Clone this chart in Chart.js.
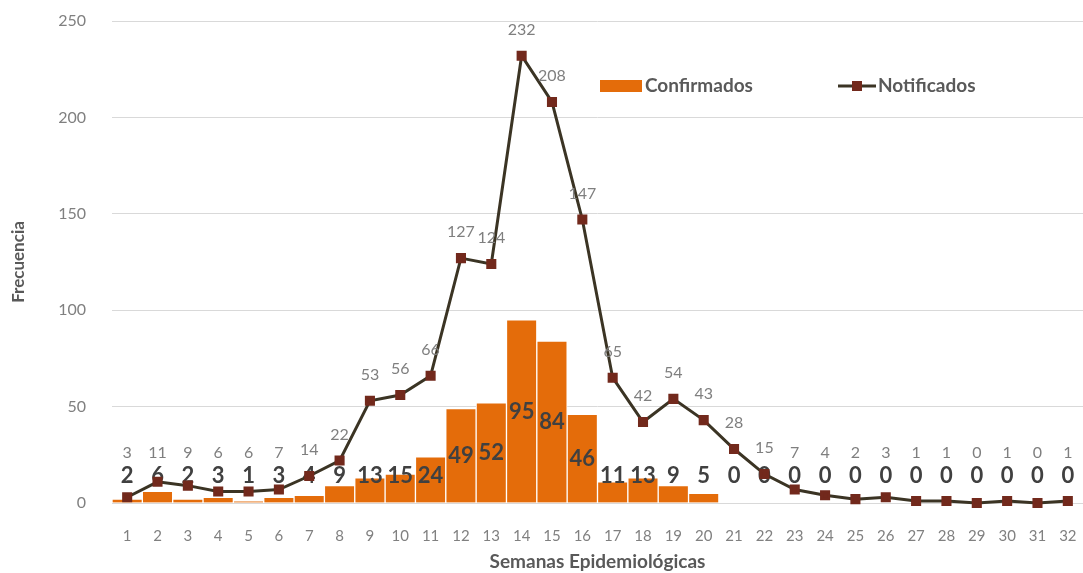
<!DOCTYPE html>
<html>
<head>
<meta charset="utf-8">
<script src="https://cdn.jsdelivr.net/npm/chart.js@4.4.1/dist/chart.umd.min.js"></script>
<style>
  html, body { margin: 0; padding: 0; background: #fff; }
  #wrap { width: 1083px; height: 573px; }
</style>
</head>
<body>
<div id="wrap"><canvas id="chart"></canvas></div>
<script>
const WEEKS = ['1','2','3','4','5','6','7','8','9','10','11','12','13','14','15','16',
  '17','18','19','20','21','22','23','24','25','26','27','28','29','30','31','32'];
const CONFIRMADOS = [2,6,2,3,1,3,4,9,13,15,24,49,52,95,84,46,11,13,9,5,0,0,0,0,0,0,0,0,0,0,0,0];
const NOTIFICADOS = [3,11,9,6,6,7,14,22,53,56,66,127,124,232,208,147,65,42,54,43,28,15,7,4,2,3,1,1,0,1,0,1];
const Y_TICKS = [0,50,100,150,200,250];

const FONT = 'Lato, "Open Sans", sans-serif';
const BAR_COLOR = '#E46C0A';
const LINE_COLOR = '#3b3424';
const MARK_COLOR = '#72291c';

// labels drawn like the excel data labels
const valueLabels = {
  id: 'valueLabels',
  afterDatasetDraw(chart, args) {
    const ctx = chart.ctx;
    const meta = args.meta;
    const yZero = chart.scales.y.getPixelForValue(0);
    ctx.save();
    ctx.textAlign = 'center';
    ctx.textBaseline = 'middle';
    if (meta.type === 'bar') {
      ctx.font = 'bold 22px ' + FONT;
      ctx.fillStyle = '#404040';
      meta.data.forEach((bar, i) => {
        let y = (bar.y + yZero) / 2;
        y = Math.min(y, yZero - 27);
        ctx.fillText(CONFIRMADOS[i], bar.x, y);
      });
    } else {
      ctx.font = '16px ' + FONT;
      ctx.fillStyle = '#7f7f7f';
      meta.data.forEach((pt, i) => {
        let y = Math.min(pt.y - 26, yZero - 50);
        ctx.fillText(NOTIFICADOS[i], pt.x, y);
      });
    }
    ctx.restore();
  },
  afterDraw(chart) {
    // legend inside the plot
    const ctx = chart.ctx;
    ctx.save();
    ctx.font = 'bold 19px ' + FONT;
    ctx.textBaseline = 'middle';
    ctx.fillStyle = BAR_COLOR;
    ctx.fillRect(600, 80, 42, 12);
    ctx.fillStyle = '#595959';
    ctx.fillText(chart.data.datasets[0].label, 645, 86);

    ctx.strokeStyle = LINE_COLOR;
    ctx.lineWidth = 3;
    ctx.beginPath();
    ctx.moveTo(838, 86);
    ctx.lineTo(876, 86);
    ctx.stroke();
    ctx.fillStyle = MARK_COLOR;
    ctx.fillRect(852, 81, 10, 10);
    ctx.fillStyle = '#595959';
    ctx.fillText(chart.data.datasets[1].label, 878, 86);
    ctx.restore();
  }
};

new Chart(document.getElementById('chart'), {
  data: {
    labels: WEEKS,
    datasets: [
      {
        type: 'bar',
        label: 'Confirmados',
        data: CONFIRMADOS,
        backgroundColor: BAR_COLOR,
        borderColor: '#ffffff',
        borderWidth: 1,
        barPercentage: 1,
        categoryPercentage: 1,
        order: 2
      },
      {
        type: 'line',
        label: 'Notificados',
        data: NOTIFICADOS,
        borderColor: LINE_COLOR,
        borderWidth: 3,
        pointStyle: 'rect',
        pointRadius: 5,
        pointBackgroundColor: MARK_COLOR,
        pointBorderColor: MARK_COLOR,
        tension: 0,
        clip: false,
        order: 1
      }
    ]
  },
  options: {
    responsive: true,
    maintainAspectRatio: false,
    animation: false,
    layout: { autoPadding: false, padding: { top: 21, right: 0, bottom: 0, left: 0 } },
    plugins: {
      legend: { display: false },
      tooltip: { enabled: false }
    },
    scales: {
      x: {
        grid: { display: false },
        border: { color: '#d9d9d9', width: 1 },
        ticks: { color: '#808080', font: { family: FONT, size: 15 }, padding: 16, maxRotation: 0, autoSkip: false },
        title: {
          display: true,
          text: 'Semanas Epidemiológicas',
          color: '#595959',
          font: { family: FONT, size: 19, weight: 'bold' },
          padding: { top: 4, bottom: 0 }
        },
        afterFit(axis) {
          axis.height = 70;
          axis.paddingLeft = 0;
          axis.paddingRight = 0;
        }
      },
      y: {
        min: 0,
        max: 250,
        afterBuildTicks(axis) { axis.ticks = Y_TICKS.map(v => ({ value: v })); },
        grid: { color: '#d9d9d9', drawTicks: false },
        border: { display: false },
        ticks: { color: '#808080', font: { family: FONT, size: 16 }, padding: 26 },
        title: {
          display: true,
          text: 'Frecuencia',
          color: '#595959',
          font: { family: FONT, size: 17, weight: 'bold' },
          padding: { top: 8, bottom: 0 }
        },
        afterFit(axis) {
          axis.width = 112;
          axis.paddingTop = 0;
        }
      }
    }
  },
  plugins: [valueLabels]
});
</script>
</body>
</html>
